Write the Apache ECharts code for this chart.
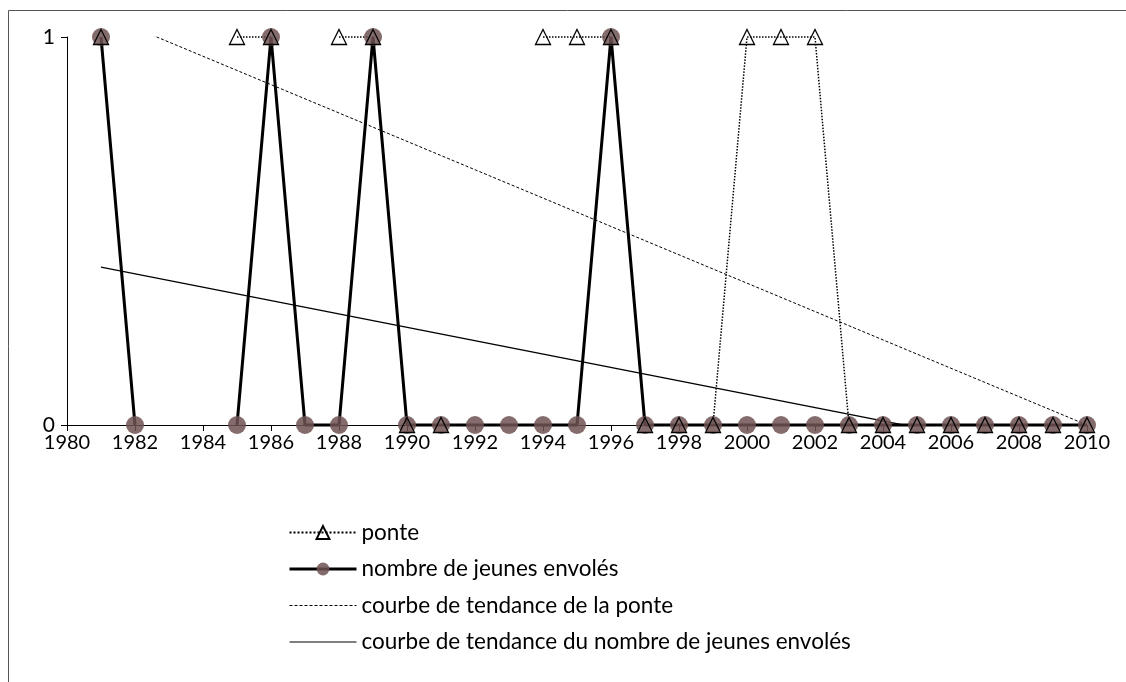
<!DOCTYPE html>
<html>
<head>
<meta charset="utf-8">
<script src="https://cdn.jsdelivr.net/npm/echarts@6/dist/echarts.min.js"></script>
<style>
  html, body { margin: 0; padding: 0; background: #fff; }
  #chart { width: 1126px; height: 682px; }
</style>
</head>
<body>
<div id="chart"></div>
<script>
// one value per year, null = no observation
const years = [1981, 1982, 1983, 1984, 1985, 1986, 1987, 1988, 1989, 1990,
  1991, 1992, 1993, 1994, 1995, 1996, 1997, 1998, 1999, 2000,
  2001, 2002, 2003, 2004, 2005, 2006, 2007, 2008, 2009, 2010];
const ponte = [1, null, null, null, 1, 1, null, 1, 1, 0,
  0, null, null, 1, 1, 1, 0, 0, 0, 1,
  1, 1, 0, 0, 0, 0, 0, 0, 0, 0];
const jeunes = [1, 0, null, null, 0, 1, 0, 0, 1, 0,
  0, 0, 0, 0, 0, 1, 0, 0, 0, 0,
  0, 0, 0, 0, 0, 0, 0, 0, 0, 0];
// linear trend lines (end points)
const trendYears = [1981, 2010];
const trendPonte = [1.06, 0.0];
const trendJeunes = [0.407, -0.093];
const yTicks = [0, 1];

const pairs = (xs, vs) => xs.map((x, i) => [x, vs[i]]);
const font = 'Lato';

const chart = echarts.init(document.getElementById('chart'));
const option = {
  backgroundColor: '#fff',
  animation: false,
  grid: { left: 67, right: 39, top: 37, bottom: 257 },
  xAxis: {
    type: 'value',
    min: 1980,
    max: 2010,
    interval: 2,
    splitLine: { show: false },
    axisLine: { lineStyle: { color: '#000', width: 1 } },
    axisTick: { length: 6, lineStyle: { color: '#000' } },
    axisLabel: { color: '#000', fontFamily: font, fontSize: 20, margin: 8, formatter: v => String(v) }
  },
  yAxis: {
    type: 'value',
    min: yTicks[0],
    max: yTicks[yTicks.length - 1],
    interval: 1,
    splitLine: { show: false },
    axisLine: { show: true, lineStyle: { color: '#000', width: 1 } },
    axisTick: { show: true, length: 6, lineStyle: { color: '#000' } },
    axisLabel: { color: '#000', fontFamily: font, fontSize: 21, margin: 12 }
  },
  legend: {
    orient: 'vertical',
    left: 283,
    top: 516,
    itemGap: 13.5,
    itemWidth: 67,
    itemHeight: 16,
    textStyle: { color: '#000', fontFamily: font, fontSize: 22.5 },
    data: [
      { name: 'ponte' },
      { name: 'nombre de jeunes envolés', lineStyle: { width: 3 } },
      { name: 'courbe de tendance de la ponte', itemStyle: { opacity: 0 }, lineStyle: { width: 1, type: [3, 2] } },
      { name: 'courbe de tendance du nombre de jeunes envolés', itemStyle: { opacity: 0 }, lineStyle: { width: 1.2 } }
    ]
  },
  graphic: [
    { type: 'line', shape: { x1: 8.5, y1: 10.5, x2: 1126, y2: 10.5 }, style: { stroke: '#555', lineWidth: 1 } },
    { type: 'line', shape: { x1: 8.5, y1: 10.5, x2: 8.5, y2: 682 }, style: { stroke: '#555', lineWidth: 1 } }
  ],
  series: [
    {
      name: 'courbe de tendance de la ponte',
      type: 'line',
      data: pairs(trendYears, trendPonte),
      symbol: 'none',
      clip: true,
      lineStyle: { color: '#000', width: 1, type: [3, 2] },
      itemStyle: { color: '#000' }
    },
    {
      name: 'courbe de tendance du nombre de jeunes envolés',
      type: 'line',
      data: pairs(trendYears, trendJeunes),
      symbol: 'none',
      clip: true,
      lineStyle: { color: '#000', width: 1.3 },
      itemStyle: { color: '#000' }
    },
    {
      name: 'nombre de jeunes envolés',
      type: 'line',
      data: pairs(years, jeunes),
      symbol: 'circle',
      symbolSize: 18,
      clip: false,
      lineStyle: { color: '#000', width: 3 },
      itemStyle: { color: 'rgba(112,82,82,0.85)', borderWidth: 0 }
    },
    {
      name: 'ponte',
      type: 'line',
      data: pairs(years, ponte),
      symbol: 'triangle',
      symbolSize: 15,
      clip: false,
      lineStyle: { color: '#000', width: 1.5, type: 'dotted' },
      itemStyle: { color: 'rgba(255,255,255,0)', borderColor: '#000', borderWidth: 1.3 }
    }
  ]
};
chart.setOption(option);
</script>
</body>
</html>
